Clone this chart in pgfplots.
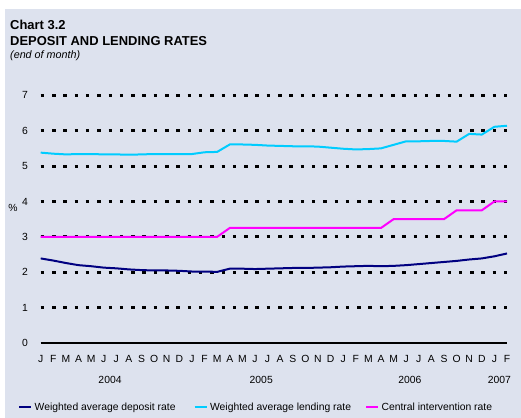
\documentclass[border=0pt]{standalone}
\usepackage{fontspec}
\setmainfont{Liberation Sans}
\usepackage{pgfplots}
\usepackage{pgfplotstable}
\pgfplotsset{compat=1.18}

\definecolor{bgc}{RGB}{221,226,238}
\definecolor{depc}{RGB}{0,0,128}
\definecolor{lendc}{RGB}{0,204,255}
\definecolor{circ}{RGB}{255,0,255}

% month index (0 = Jan 2004), deposit, lending, central intervention rate
\pgfplotstableread{
m  dep   lend  cir
0  2.39  5.38  3.00
1  2.33  5.35  3.00
2  2.26  5.33  3.00
3  2.20  5.34  3.00
4  2.17  5.34  3.00
5  2.13  5.33  3.00
6  2.11  5.33  3.00
7  2.08  5.32  3.00
8  2.06  5.33  3.00
9  2.05  5.34  3.00
10 2.05  5.34  3.00
11 2.04  5.34  3.00
12 2.02  5.34  3.00
13 2.02  5.39  3.00
14 2.01  5.40  3.00
15 2.10  5.61  3.25
16 2.10  5.61  3.25
17 2.09  5.60  3.25
18 2.10  5.58  3.25
19 2.11  5.57  3.25
20 2.12  5.56  3.25
21 2.12  5.56  3.25
22 2.13  5.55  3.25
23 2.14  5.52  3.25
24 2.16  5.49  3.25
25 2.17  5.47  3.25
26 2.18  5.48  3.25
27 2.17  5.50  3.25
28 2.18  5.60  3.50
29 2.20  5.70  3.50
30 2.23  5.70  3.50
31 2.26  5.71  3.50
32 2.29  5.71  3.50
33 2.32  5.69  3.75
34 2.36  5.91  3.75
35 2.39  5.89  3.75
36 2.45  6.11  4.00
37 2.53  6.14  4.00
}\rates

\begin{document}
\begin{tikzpicture}
\fill[bgc] (-35.7bp,-75bp) rectangle (480.3bp,334bp);
\begin{axis}[
    at={(0,0)}, anchor=south west,
    scale only axis,
    width=466.3bp, height=247.7bp,
    xmin=0, xmax=37, ymin=0, ymax=7,
    clip=false,
    axis x line=bottom, axis y line=left,
    axis line style={-},
    y axis line style={draw=none},
    x axis line style={line width=1.5bp},
    major tick length=0pt,
    xtick={0,...,37},
    xticklabels={J,F,M,A,M,J,J,A,S,O,N,D,J,F,M,A,M,J,J,A,S,O,N,D,J,F,M,A,M,J,J,A,S,O,N,D,J,F},
    ytick={1,...,7},
    extra y ticks={0},
    extra y tick style={grid=none},
    ymajorgrids,
    grid style={black, line width=3bp, dash pattern=on 3.5bp off 7.8bp},
    ticklabel style={font=\fontsize{10.4}{12}\selectfont},
    xticklabel style={anchor=base, inner sep=0pt, yshift=-19.7bp},
    yticklabel style={anchor=east, inner sep=0pt, xshift=-12.7bp},
    /pgf/number format/assume math mode=true,
    legend columns=3,
    legend style={at={(-0.0487,-0.2584)}, anchor=west, draw=none, fill=none,
        inner sep=0pt, nodes={inner sep=0pt},
        font=\fontsize{10.4}{12}\selectfont,
        /tikz/column 2/.style={column sep=18bp},
        /tikz/column 4/.style={column sep=14bp}},
    legend image code/.code={
        \draw[#1, line width=2bp] (0bp,0bp) -- (12bp,0bp);
        \path (14.5bp,0bp);},
]
\addplot[depc, line width=2bp] table[x=m, y=dep] {\rates};
\addlegendentry{Weighted average deposit rate}
\addplot[lendc, line width=2bp] table[x=m, y=lend] {\rates};
\addlegendentry{Weighted average lending rate}
\addplot[circ, line width=2bp] table[x=m, y=cir] {\rates};
\addlegendentry{Central intervention rate}

\begin{scope}[every node/.style={anchor=base, inner sep=0pt, font=\fontsize{10.4}{12}\selectfont}]
\node[yshift=-40.7bp] at (axis cs:5.5,0) {2004};
\node[yshift=-40.7bp] at (axis cs:17.5,0) {2005};
\node[yshift=-40.7bp] at (axis cs:29.3,0) {2006};
\node[yshift=-40.7bp] at (axis cs:36.4,0) {2007};
\end{scope}
\end{axis}

\node[inner sep=0pt, font=\fontsize{10.4}{12}\selectfont] at (-27.7bp,135bp) {\%};
\node[anchor=base west, inner sep=0pt, font=\bfseries\fontsize{13}{15}\selectfont] at (-30.7bp,313bp) {Chart 3.2};
\node[anchor=base west, inner sep=0pt, font=\bfseries\fontsize{13}{15}\selectfont] at (-30.7bp,297.5bp) {DEPOSIT AND LENDING RATES};
\node[anchor=base west, inner sep=0pt, font=\itshape\fontsize{10.8}{12}\selectfont] at (-30.7bp,284bp) {(end of month)};

\pgfresetboundingbox
\path[use as bounding box] (-40.7bp,-75bp) rectangle (480.3bp,343bp);
\end{tikzpicture}
\end{document}
